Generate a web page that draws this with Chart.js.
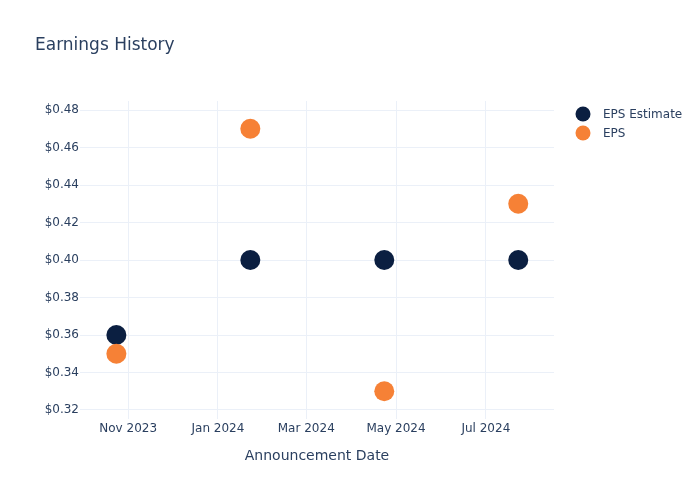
<!DOCTYPE html>
<html>
<head>
<meta charset="utf-8">
<script src="https://cdn.jsdelivr.net/npm/chart.js@4/dist/chart.umd.min.js"></script>
<style>
  html, body { margin: 0; padding: 0; background: #ffffff; }
  #wrap { width: 700px; height: 500px; position: relative; }
</style>
</head>
<body>
<div id="wrap"><canvas id="c" width="700" height="500"></canvas></div>
<script>
// ---- data ----
const announcementDates = ["2023-10-24", "2024-01-23", "2024-04-23", "2024-07-23"];
const epsEstimate = [0.36, 0.40, 0.40, 0.40];
const epsActual = [0.35, 0.47, 0.33, 0.43];
const xTickDates = ["2023-11-01", "2024-01-01", "2024-03-01", "2024-05-01", "2024-07-01"];
const xTickLabels = ["Nov 2023", "Jan 2024", "Mar 2024", "May 2024", "Jul 2024"];
const yTickValues = [0.32, 0.34, 0.36, 0.38, 0.40, 0.42, 0.44, 0.46, 0.48];

const ts = d => Date.parse(d + "T00:00:00Z");
const FONT = "'DejaVu Sans', sans-serif";
const TXT = "#2a3f5f";
const GRID = "#ebf0f8";
const NAVY = "#0b1f41";
const ORANGE = "#f68136";

const legendPlugin = {
  id: "sideLegend",
  afterDraw(chart) {
    const ctx = chart.ctx;
    ctx.save();
    chart.data.datasets.forEach((ds, i) => {
      const cy = 114 + i * 19;
      ctx.beginPath();
      ctx.fillStyle = ds.backgroundColor;
      ctx.arc(583, cy, 7.5, 0, Math.PI * 2);
      ctx.fill();
      ctx.fillStyle = TXT;
      ctx.font = "12px " + FONT;
      ctx.textBaseline = "middle";
      ctx.textAlign = "left";
      ctx.fillText(ds.label, 603, cy + 1);
    });
    ctx.restore();
  }
};

new Chart(document.getElementById("c"), {
  type: "scatter",
  data: {
    datasets: [
      {
        label: "EPS Estimate",
        data: announcementDates.map((d, i) => ({ x: ts(d), y: epsEstimate[i] })),
        backgroundColor: NAVY,
        borderWidth: 0,
        pointRadius: 10,
        pointHoverRadius: 10,
        order: 1
      },
      {
        label: "EPS",
        data: announcementDates.map((d, i) => ({ x: ts(d), y: epsActual[i] })),
        backgroundColor: ORANGE,
        borderWidth: 0,
        pointRadius: 10,
        pointHoverRadius: 10,
        order: 0
      }
    ]
  },
  options: {
    responsive: false,
    animation: false,
    devicePixelRatio: 1,
    layout: { padding: { left: 35, right: 146, top: 0, bottom: 0 } },
    plugins: {
      legend: { display: false },
      tooltip: { enabled: false },
      title: {
        display: true,
        text: "Earnings History",
        align: "start",
        color: TXT,
        font: { family: FONT, size: 17, weight: "normal", lineHeight: 1.2 },
        padding: { top: 35, bottom: 45.6 }
      }
    },
    scales: {
      x: {
        type: "linear",
        min: Date.parse("2023-09-29T07:00:00Z"),
        max: Date.parse("2024-08-16T07:00:00Z"),
        grid: { color: GRID, drawTicks: false, lineWidth: 1 },
        border: { display: false },
        afterBuildTicks: s => { s.ticks = xTickDates.map(d => ({ value: ts(d) })); },
        afterFit: s => { s.height = 81; },
        ticks: {
          color: TXT,
          font: { family: FONT, size: 12 },
          padding: 3,
          maxRotation: 0,
          autoSkip: false,
          callback: (v, i) => xTickLabels[i]
        },
        title: {
          display: true,
          text: "Announcement Date",
          color: TXT,
          font: { family: FONT, size: 14, lineHeight: 1.2 },
          padding: { top: 0, bottom: 35 }
        }
      },
      y: {
        type: "linear",
        min: 0.3152,
        max: 0.4848,
        grid: { color: GRID, drawTicks: false, lineWidth: 1 },
        border: { display: false },
        afterBuildTicks: s => { s.ticks = yTickValues.map(v => ({ value: v })); },
        afterFit: s => { s.width = 45; },
        ticks: {
          color: TXT,
          font: { family: FONT, size: 12 },
          padding: 1,
          callback: v => "$" + Number(v).toFixed(2)
        }
      }
    }
  },
  plugins: [legendPlugin]
});
</script>
</body>
</html>
